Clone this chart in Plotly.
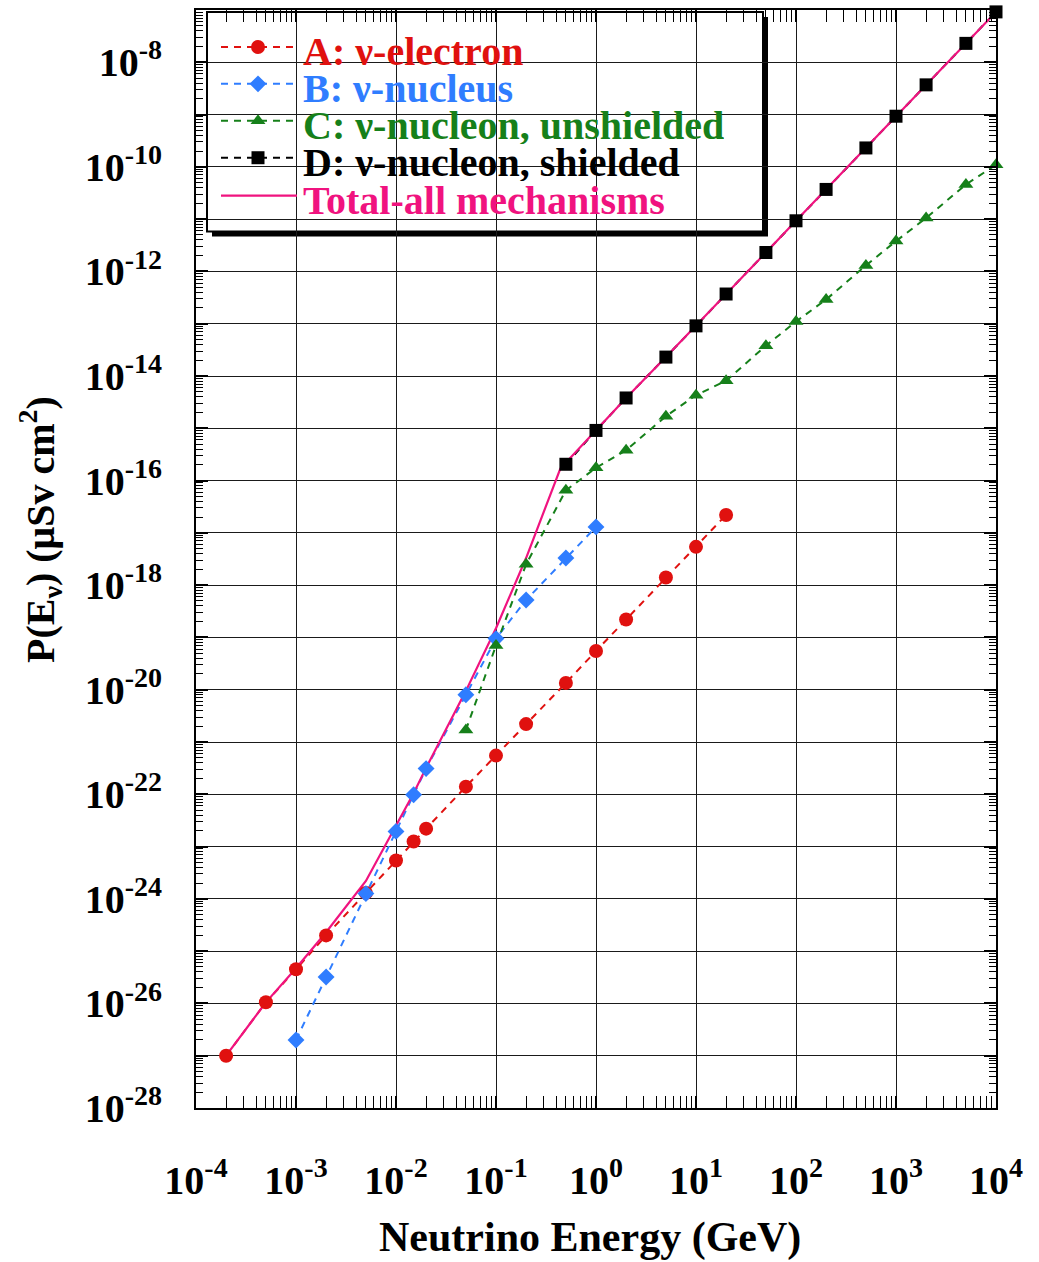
import plotly.graph_objects as go

# ---------------- data ----------------
A_E = [2e-4, 5e-4, 1e-3, 2e-3, 5e-3, 1e-2, 1.5e-2, 2e-2, 5e-2, 0.1, 0.2, 0.5, 1, 2, 5, 10, 20]
A_P = [1.0e-27, 1.05e-26, 4.5e-26, 2.0e-25, 1.3e-24, 5.4e-24, 1.25e-23, 2.2e-23, 1.4e-22,
       5.5e-22, 2.2e-21, 1.35e-20, 5.5e-20, 2.2e-19, 1.4e-18, 5.4e-18, 2.2e-17]

B_E = [1e-3, 2e-3, 5e-3, 1e-2, 1.5e-2, 2e-2, 5e-2, 0.1, 0.2, 0.5, 1]
B_P = [2.0e-27, 3.2e-26, 1.26e-24, 1.95e-23, 9.8e-23, 3.1e-22, 8.0e-21, 9.5e-20, 5.2e-19,
       3.3e-18, 1.3e-17]

C_E = [0.05, 0.1, 0.2, 0.5, 1, 2, 5, 10, 20, 50, 100, 200, 500, 1000, 2000, 5000, 10000]
C_P = [1.7e-21, 7.0e-20, 2.5e-18, 6.5e-17, 1.75e-16, 3.8e-16, 1.7e-15, 4.3e-15, 8.1e-15,
       3.8e-14, 1.1e-13, 2.9e-13, 1.3e-12, 3.8e-12, 1.05e-11, 4.6e-11, 1.1e-10]

D_E = [0.5, 1, 2, 5, 10, 20, 50, 100, 200, 500, 1000, 2000, 5000, 10000]
D_P = [2.05e-16, 9.1e-16, 3.8e-15, 2.3e-14, 9.1e-14, 3.7e-13, 2.3e-12, 9.3e-12, 3.7e-11,
       2.3e-10, 9.3e-10, 3.7e-9, 2.3e-8, 9.2e-8]

T_E = [2e-4, 5e-4, 1e-3, 2e-3, 5e-3, 1e-2, 1.5e-2, 2e-2, 5e-2, 0.1, 0.2, 0.44, 1, 2, 5, 10,
       20, 50, 100, 200, 500, 1000, 2000, 5000, 10000]
T_P = [1.0e-27, 1.05e-26, 4.7e-26, 2.3e-25, 2.2e-24, 2.6e-23, 1.05e-22, 3.2e-22, 9.5e-21,
       1.5e-19, 3.3e-18, 1.7e-16, 9.2e-16, 3.8e-15, 2.3e-14, 9.1e-14, 3.7e-13, 2.3e-12,
       9.3e-12, 3.7e-11, 2.3e-10, 9.3e-10, 3.7e-9, 2.3e-8, 9.2e-8]

SERIES_NAMES = ["A: ν-electron", "B: ν-nucleus", "C: ν-nucleon, unshielded",
                "D: ν-nucleon, shielded", "Total-all mechanisms"]

X_EXPONENTS = list(range(-4, 5))
Y_EXPONENTS = list(range(-28, -6))

# ---------------- styles ----------------
RED = "#e0110f"
BLUE = "#2f7dff"
GREEN = "#16801a"
BLACK = "#000000"
PINK = "#f0137f"
FONT = "Liberation Serif"
DASH = "7px,6px"

series = [
    (A_E, A_P, RED, "circle", 14),
    (B_E, B_P, BLUE, "diamond", 13),
    (C_E, C_P, GREEN, "triangle-up", 13),
    (D_E, D_P, BLACK, "square", 13),
]

fig = go.Figure()

# dashed connecting lines first, then the total curve, then the markers on top
for xs, ys, col, sym, sz in series:
    fig.add_trace(go.Scatter(x=xs, y=ys, mode="lines",
                             line=dict(color=col, width=2, dash=DASH),
                             showlegend=False, cliponaxis=False, hoverinfo="skip"))
fig.add_trace(go.Scatter(x=T_E, y=T_P, mode="lines", line=dict(color=PINK, width=2.2),
                         showlegend=False, cliponaxis=False))
for xs, ys, col, sym, sz in series:
    fig.add_trace(go.Scatter(x=xs, y=ys, mode="markers",
                             marker=dict(symbol=sym, size=sz, color=col),
                             showlegend=False, cliponaxis=False))

# empty trace to carry the odd-decade grid axis
fig.add_trace(go.Scatter(x=[None], y=[None], xaxis="x", yaxis="y3", showlegend=False,
                         hoverinfo="skip"))

# ---------------- legend (drawn manually on an overlay axis in 0..1 units) ----------------
W, H = 1039, 1262
L, R, T, B = 196, 43, 8, 154
PW, PH = W - L - R, H - T - B


def px2x(px):
    return (px - L) / PW


def py2y(py):
    return (T + PH - py) / PH


LEG_ROWS = [45, 82, 119, 156, 194]
LEG_X0, LEG_XM, LEG_X1, LEG_TX = 221, 258, 297, 303
leg_styles = [
    (RED, "circle", 14, DASH),
    (BLUE, "diamond", 13, DASH),
    (GREEN, "triangle-up", 13, DASH),
    (BLACK, "square", 13, DASH),
    (PINK, None, 0, "solid"),
]
for name, row, (col, sym, sz, dash) in zip(SERIES_NAMES, LEG_ROWS, leg_styles):
    yy = py2y(row)
    fig.add_trace(go.Scatter(x=[px2x(LEG_X0), px2x(LEG_X1)], y=[yy, yy], mode="lines",
                             line=dict(color=col, width=2.2 if dash == "solid" else 2, dash=dash),
                             xaxis="x2", yaxis="y2", showlegend=False, hoverinfo="skip"))
    if sym:
        fig.add_trace(go.Scatter(x=[px2x(LEG_XM)], y=[yy], mode="markers",
                                 marker=dict(symbol=sym, size=sz, color=col),
                                 xaxis="x2", yaxis="y2", showlegend=False, hoverinfo="skip"))
    fig.add_annotation(x=px2x(LEG_TX - 2), y=py2y(row + 5), xref="paper", yref="paper",
                       xanchor="left", yanchor="middle", showarrow=False, text=name,
                       height=37, valign="middle",
                       font=dict(family=FONT, size=40, color=col, weight="bold"))

# legend box with drop shadow
fig.add_shape(type="rect", xref="paper", yref="paper", layer="between",
              x0=px2x(212), x1=px2x(768), y0=py2y(235), y1=py2y(15),
              fillcolor="black", line=dict(width=0))
fig.add_shape(type="rect", xref="paper", yref="paper", layer="between",
              x0=px2x(207), x1=px2x(763), y0=py2y(230), y1=py2y(10),
              fillcolor="white", line=dict(color="black", width=2))

# ---------------- axes ----------------
x_tickvals = [10.0 ** e for e in X_EXPONENTS]
x_ticktext = ["10<sup>%d</sup>" % e for e in X_EXPONENTS]
y_even = [e for e in Y_EXPONENTS if e % 2 == 0]
y_odd = [e for e in Y_EXPONENTS if e % 2 != 0]
y_tickvals = [10.0 ** e for e in y_even]
y_ticktext = ["10<sup>%d</sup>" % e for e in y_even]
y_odd_vals = [10.0 ** e for e in y_odd]
x_minor = [k * 10.0 ** e for e in X_EXPONENTS[:-1] for k in range(2, 10)]
y_minor = [k * 10.0 ** e for e in Y_EXPONENTS[:-1] for k in range(2, 10)]

tickfont = dict(family=FONT, size=40, color="black", weight="bold")
GRID = dict(showgrid=True, gridcolor="#1a1a1a", gridwidth=1.3)

fig.update_layout(
    width=W, height=H,
    margin=dict(l=L, r=R, t=T, b=B),
    paper_bgcolor="white", plot_bgcolor="white",
    showlegend=False,
    xaxis=dict(type="log", range=[-4, 4], tickmode="array", tickvals=x_tickvals,
               ticktext=x_ticktext, ticks="inside", ticklen=12, tickwidth=1.5,
               tickcolor="black", showline=True, linecolor="black", linewidth=2,
               mirror="allticks", zeroline=False, tickfont=tickfont, ticklabelstandoff=36,
               minor=dict(tickmode="array", tickvals=x_minor, ticks="inside", ticklen=7,
                          tickwidth=1.3, tickcolor="black", showgrid=False), **GRID),
    yaxis=dict(type="log", range=[-28, -7], tickmode="array", tickvals=y_tickvals,
               ticktext=y_ticktext, ticks="inside", ticklen=12, tickwidth=1.5,
               tickcolor="black", showline=True, linecolor="black", linewidth=2,
               mirror="allticks", zeroline=False, tickfont=tickfont, ticklabelstandoff=24,
               minor=dict(tickmode="array", tickvals=y_minor, ticks="inside", ticklen=7,
                          tickwidth=1.3, tickcolor="black", showgrid=False), **GRID),
    yaxis3=dict(type="log", range=[-28, -7], overlaying="y", side="left",
                tickmode="array", tickvals=y_odd_vals, showticklabels=False,
                ticks="inside", ticklen=12, tickwidth=1.5, tickcolor="black",
                showline=False, mirror="allticks", zeroline=False, fixedrange=True, **GRID),
    xaxis2=dict(overlaying="x", range=[0, 1], visible=False, fixedrange=True),
    yaxis2=dict(overlaying="y", range=[0, 1], visible=False, fixedrange=True),
)

# axis titles
fig.add_annotation(x=px2x(590), y=py2y(1238), xref="paper", yref="paper",
                   xanchor="center", yanchor="middle", showarrow=False,
                   text="Neutrino Energy (GeV)",
                   font=dict(family=FONT, size=42, color="black", weight="bold"))
fig.add_annotation(x=px2x(40), y=py2y(529), xref="paper", yref="paper",
                   xanchor="center", yanchor="middle", showarrow=False, textangle=-90,
                   text="P(E<sub>ν</sub>) (μSv cm<sup>2</sup>)",
                   font=dict(family=FONT, size=40, color="black", weight="bold"))

fig.write_html("out.html")
